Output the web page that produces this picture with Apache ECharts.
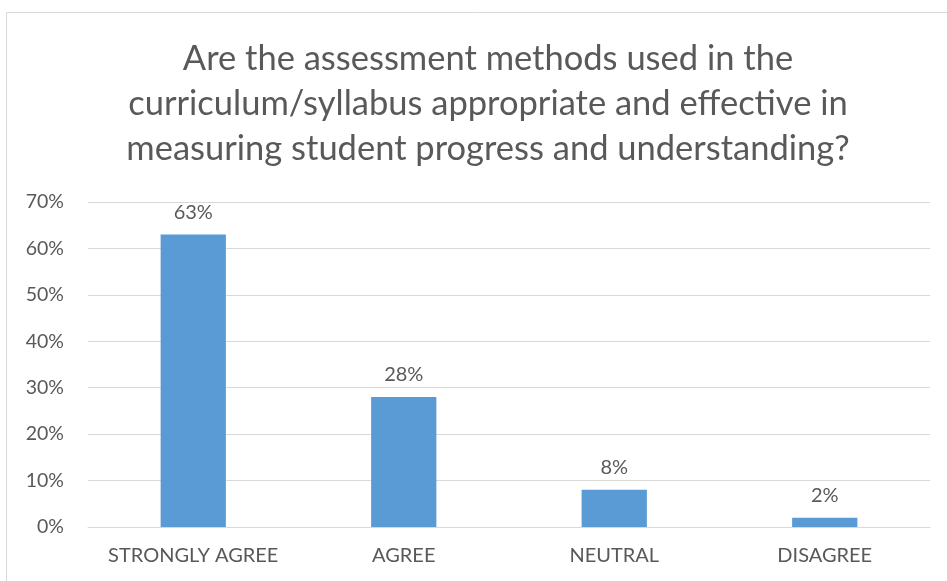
<!DOCTYPE html>
<html>
<head>
<meta charset="utf-8">
<script src="https://cdn.jsdelivr.net/npm/echarts@6/dist/echarts.min.js"></script>
<style>
  html, body { margin: 0; padding: 0; background: #fff; }
  #chart { width: 947px; height: 581px; }
</style>
</head>
<body>
<div id="chart"></div>
<script>
const categories = ['STRONGLY AGREE', 'AGREE', 'NEUTRAL', 'DISAGREE'];
const values = [63, 28, 8, 2];
const yTicks = [0, 10, 20, 30, 40, 50, 60, 70];

const chart = echarts.init(document.getElementById('chart'), null, { renderer: 'canvas' });
const textColor = '#595959';
const fontFamily = 'Lato, "Open Sans", sans-serif';

chart.setOption({
    animation: false,
    backgroundColor: '#fff',
    graphic: [{
        type: 'rect',
        shape: { x: 6.5, y: 12.5, width: 980, height: 620 },
        style: { fill: 'none', stroke: '#d9d9d9', lineWidth: 1 },
        silent: true
    }],
    title: {
        text: 'Are the assessment methods used in the\ncurriculum/syllabus appropriate and effective in\nmeasuring student progress and understanding?',
        left: 483,
        textAlign: 'center',
        top: 31,
        textStyle: {
            fontFamily: fontFamily,
            fontSize: 34.5,
            fontWeight: 'normal',
            color: textColor,
            lineHeight: 45
        }
    },
    grid: {
        left: 88,
        right: 17,
        top: 202,
        bottom: 54,
        containLabel: false
    },
    xAxis: {
        type: 'category',
        data: categories,
        axisTick: { show: false },
        axisLine: { lineStyle: { color: '#d9d9d9', width: 1 } },
        axisLabel: {
            interval: 0,
            hideOverlap: false,
            color: textColor,
            fontFamily: fontFamily,
            fontSize: 20,
            margin: 19
        }
    },
    yAxis: {
        type: 'value',
        min: yTicks[0],
        max: yTicks[yTicks.length - 1],
        interval: 10,
        axisLine: { show: false },
        axisTick: { show: false },
        splitLine: { lineStyle: { color: '#d9d9d9', width: 1 } },
        axisLabel: {
            color: textColor,
            fontFamily: fontFamily,
            fontSize: 19.5,
            margin: 24,
            formatter: v => v + '%'
        }
    },
    series: [{
        type: 'bar',
        data: values,
        barWidth: '31%',
        itemStyle: { color: '#5b9bd5' },
        label: {
            show: true,
            position: 'top',
            distance: 12,
            color: textColor,
            fontFamily: fontFamily,
            fontSize: 20,
            formatter: p => p.value + '%'
        }
    }]
});
</script>
</body>
</html>
